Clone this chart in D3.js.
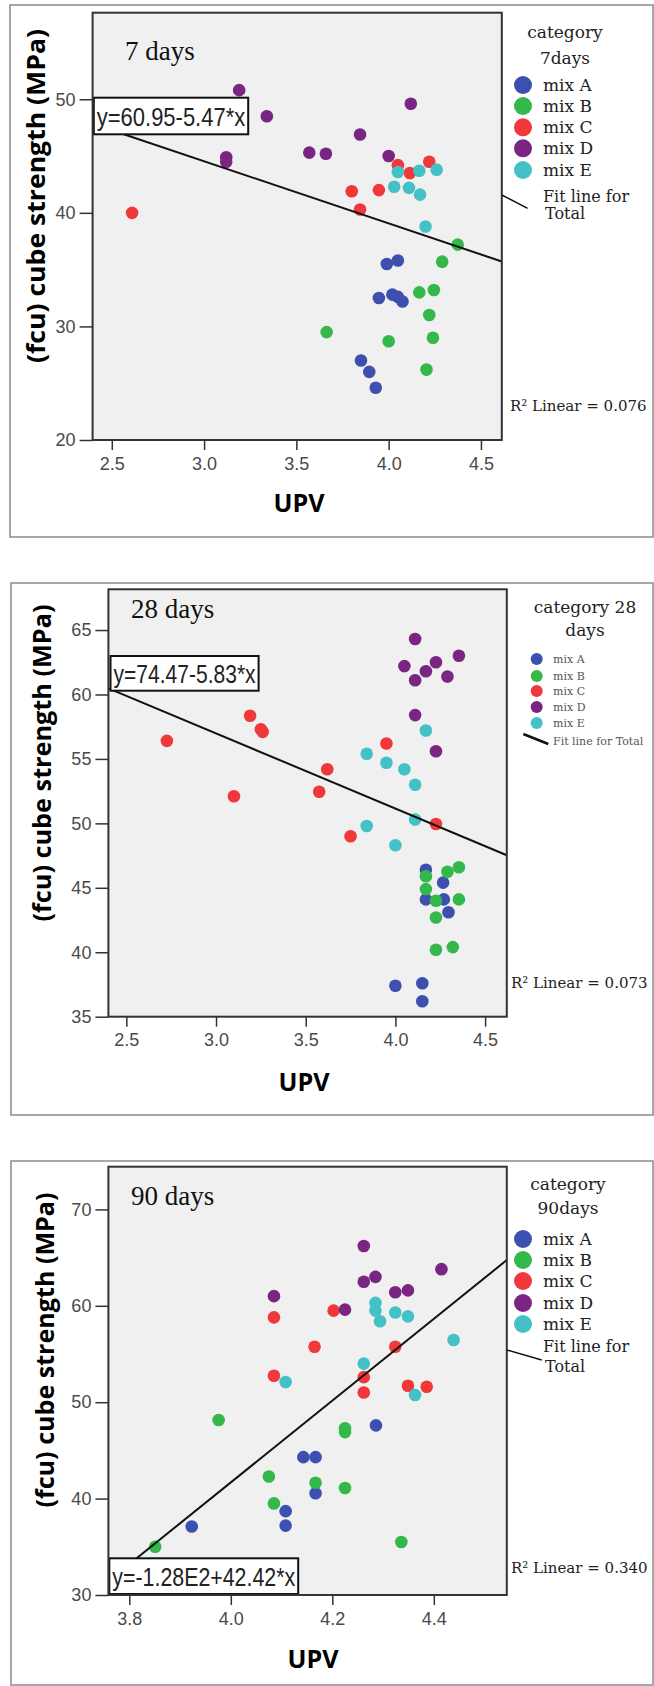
<!DOCTYPE html>
<html>
<head>
<meta charset="utf-8">
<script src="https://cdn.jsdelivr.net/npm/d3@7"></script>
<style>
  body { margin: 0; background: #fff; }
</style>
</head>
<body>
<script>
// categories
var mixes = ["mix A", "mix B", "mix C", "mix D", "mix E"];

// 7 days : [UPV, fcu]
var d7A = [[3.99,35.5],[4.05,35.8],[3.947,32.5],[4.02,32.8],[4.05,32.6],[4.075,32.2],[3.85,27.0],[3.895,26.0],[3.93,24.6]];
var d7B = [[4.374,37.2],[4.29,35.7],[4.166,33.0],[4.245,33.2],[4.22,31.0],[4.24,29.0],[3.664,29.5],[4.0,28.7],[4.205,26.2]];
var d7C = [[2.61,40.0],[3.80,41.9],[3.947,42.0],[3.845,40.3],[4.05,44.2],[4.115,43.5],[4.22,44.5]];
var d7D = [[3.19,50.8],[3.34,48.5],[3.12,44.9],[3.12,44.5],[3.57,45.3],[3.66,45.2],[3.845,46.9],[4.12,49.6],[4.0,45.0]];
var d7E = [[4.05,43.6],[4.166,43.7],[4.26,43.8],[4.03,42.3],[4.11,42.2],[4.17,41.6],[4.20,38.8]];

// 28 days
var d28A = [[4.17,46.4],[4.266,45.4],[4.17,44.1],[4.27,44.1],[4.296,43.1],[4.0,37.4],[4.15,37.6],[4.15,36.2]];
var d28B = [[4.17,45.9],[4.17,44.9],[4.29,46.25],[4.354,46.6],[4.226,44.0],[4.354,44.1],[4.226,42.7],[4.226,40.2],[4.32,40.4]];
var d28C = [[2.726,56.4],[3.19,58.35],[3.26,57.1],[3.25,57.3],[3.10,52.1],[3.62,54.2],[3.575,52.45],[3.95,56.2],[3.75,49.0],[4.226,49.95]];
var d28D = [[4.11,64.3],[4.05,62.2],[4.17,61.8],[4.226,62.5],[4.11,61.1],[4.29,61.4],[4.354,63.0],[4.11,58.4],[4.226,55.6]];
var d28E = [[3.84,55.4],[3.95,54.7],[4.05,54.2],[4.11,53.0],[4.17,57.2],[3.84,49.8],[4.0,48.3],[4.11,50.3]];

// 90 days
var d90A = [[4.286,47.6],[4.143,44.3],[4.167,44.3],[4.167,40.55],[4.108,38.7],[4.108,37.2],[3.923,37.1]];
var d90B = [[3.976,48.15],[4.225,46.9],[4.225,47.3],[4.075,42.3],[4.167,41.65],[4.225,41.1],[4.085,39.5],[3.851,35.0],[4.336,35.5]];
var d90C = [[4.085,58.8],[4.2025,59.5],[4.165,55.75],[4.324,55.75],[4.085,52.75],[4.262,52.6],[4.262,51.0],[4.349,51.7],[4.386,51.6]];
var d90D = [[4.262,66.2],[4.262,62.5],[4.285,63.0],[4.085,61.0],[4.225,59.6],[4.324,61.4],[4.349,61.6],[4.415,63.8]];
var d90E = [[4.285,60.3],[4.285,59.5],[4.294,58.4],[4.324,59.3],[4.349,58.9],[4.439,56.45],[4.262,54.0],[4.108,52.1],[4.363,50.75]];

// fit lines [intercept, slope] and R squared
var fit7 = [60.95, -5.47], fit28 = [74.47, -5.83], fit90 = [-128, 42.42];
var r2 = [0.076, 0.073, 0.340];
var eqText = ["y=60.95-5.47*x", "y=74.47-5.83*x", "y=-1.28E2+42.42*x"];
var ageText = ["7 days", "28 days", "90 days"];
var legTitle = [["category", "7days"], ["category 28", "days"], ["category", "90days"]];

// ticks
var xTicks7 = [2.5, 3.0, 3.5, 4.0, 4.5], yTicks7 = [20, 30, 40, 50];
var xTicks28 = [2.5, 3.0, 3.5, 4.0, 4.5], yTicks28 = [35, 40, 45, 50, 55, 60, 65];
var xTicks90 = [3.8, 4.0, 4.2, 4.4], yTicks90 = [30, 40, 50, 60, 70];

var colorArr = ["#3d50b0", "#35b84a", "#f0383b", "#7a2582", "#43c1c7"];

var svg = d3.select("body").append("svg")
    .attr("width", 654).attr("height", 1686);

var panels = [
  { series: [d7A, d7B, d7C, d7D, d7E], fit: fit7, r2: r2[0], eq: eqText[0], age: ageText[0], title: legTitle[0],
    xTicks: xTicks7, yTicks: yTicks7, xDomain: [2.396, 4.613], yDomain: [20, 57.62],
    frame: {x: 10, y: 5, w: 643, h: 532}, plot: {x: 92.6, y: 12.7, w: 409.2, h: 427.3},
    box: {x: 93.8, y: 97.7, w: 154.4, h: 36.6}, ageAt: [125, 60], labelX: 35, labelY: 196, labelLen: 334,
    upv: [299, 512], r2At: [510, 411], legend: "big", legY: [38, 64], legCx: 565, rows: [85, 106, 127.3, 148.3, 170],
    fitLeg: [[501.8, 195], [527.6, 208.3]], fitTxt: [202, 219] },
  { series: [d28A, d28B, d28C, d28D, d28E], fit: fit28, r2: r2[1], eq: eqText[1], age: ageText[1], title: legTitle[1],
    xTicks: xTicks28, yTicks: yTicks28, xDomain: [2.40, 4.621], yDomain: [35, 68.16],
    frame: {x: 11, y: 583, w: 642, h: 532}, plot: {x: 108.4, y: 589.3, w: 398.4, h: 427.4},
    box: {x: 110.5, y: 656, w: 148.1, h: 34.7}, ageAt: [131, 618], labelX: 40.6, labelY: 763, labelLen: 317,
    upv: [304, 1091], r2At: [511, 988], legend: "small", legY: [613, 636], legCx: 585, rows: [659, 676, 691, 707, 723],
    fitLeg: [[523.3, 734], [548.3, 744]], fitTxt: [745] },
  { series: [d90A, d90B, d90C, d90D, d90E], fit: fit90, r2: r2[2], eq: eqText[2], age: ageText[2], title: legTitle[2],
    xTicks: xTicks90, yTicks: yTicks90, xDomain: [3.7588, 4.5438], yDomain: [30, 74.43],
    frame: {x: 11, y: 1161, w: 642, h: 524}, plot: {x: 108.4, y: 1166.7, w: 398.4, h: 428.3},
    box: {x: 109.3, y: 1558.3, w: 188.9, h: 35.7}, ageAt: [131, 1205], labelX: 43.8, labelY: 1350, labelLen: 315,
    upv: [313, 1668], r2At: [511, 1573], legend: "big", legY: [1190, 1214], legCx: 568, rows: [1239, 1260, 1281, 1303, 1324],
    fitLeg: [[506.8, 1350], [541.7, 1360]], fitTxt: [1352, 1372] }
];

panels.forEach(drawPanel);

function drawPanel(p) {
  var g = svg.append("g");
  var x = d3.scaleLinear().domain(p.xDomain).range([p.plot.x, p.plot.x + p.plot.w]);
  var y = d3.scaleLinear().domain(p.yDomain).range([p.plot.y + p.plot.h, p.plot.y]);

  g.append("rect")
    .attr("x", p.frame.x).attr("y", p.frame.y)
    .attr("width", p.frame.w).attr("height", p.frame.h)
    .attr("fill", "none").attr("stroke", "#8a8a8a").attr("stroke-width", 1.5);

  g.append("rect")
    .attr("x", p.plot.x).attr("y", p.plot.y)
    .attr("width", p.plot.w).attr("height", p.plot.h)
    .attr("fill", "#f0f0f0");

  // axes
  var xAxis = d3.axisBottom(x).tickValues(p.xTicks).tickFormat(d3.format(".1f"))
      .tickSizeInner(10).tickSizeOuter(0).tickPadding(7);
  var gx = g.append("g")
      .attr("transform", "translate(0," + (p.plot.y + p.plot.h) + ")")
      .call(xAxis);
  var yAxis = d3.axisLeft(y).tickValues(p.yTicks).tickFormat(d3.format("d"))
      .tickSizeInner(13).tickSizeOuter(0).tickPadding(4);
  var gy = g.append("g")
      .attr("transform", "translate(" + p.plot.x + ",0)")
      .call(yAxis);
  [gx, gy].forEach(function(a){
    a.select(".domain").remove();
    a.selectAll("line").attr("stroke", "#333").attr("stroke-width", 1.5);
    a.selectAll("text")
      .attr("font-family", "Liberation Sans, Arial, sans-serif")
      .attr("font-size", "18px")
      .attr("fill", "#4a4a4a");
  });

  // points
  p.series.forEach(function(s, i){
    g.append("g").selectAll("circle")
      .data(s)
      .enter()
      .append("circle")
      .attr("cx", function(d){ return x(d[0]); })
      .attr("cy", function(d){ return y(d[1]); })
      .attr("r", 6.3)
      .attr("fill", colorArr[i]);
  });

  // fit line for total
  var line = d3.line()
      .x(function(d){ return x(d); })
      .y(function(d){ return y(p.fit[0] + p.fit[1] * d); });
  g.append("path")
    .datum(p.xDomain)
    .attr("d", line)
    .attr("fill", "none")
    .attr("stroke", "#111")
    .attr("stroke-width", 2);

  // equation box
  g.append("rect")
    .attr("x", p.box.x).attr("y", p.box.y)
    .attr("width", p.box.w).attr("height", p.box.h)
    .attr("fill", "#fff").attr("stroke", "#111").attr("stroke-width", 2);
  g.append("text")
    .attr("x", p.box.x + 3).attr("y", p.box.y + p.box.h - 8)
    .attr("font-family", "Liberation Sans Narrow, Liberation Sans, Arial, sans-serif")
    .attr("font-size", "25px")
    .attr("textLength", p.box.w - 6)
    .attr("lengthAdjust", "spacingAndGlyphs")
    .attr("fill", "#222")
    .text(p.eq);

  // plot border
  g.append("rect")
    .attr("x", p.plot.x).attr("y", p.plot.y)
    .attr("width", p.plot.w).attr("height", p.plot.h)
    .attr("fill", "none").attr("stroke", "#333").attr("stroke-width", 2);

  g.append("text")
    .attr("x", p.ageAt[0]).attr("y", p.ageAt[1])
    .attr("font-family", "Liberation Serif, Times New Roman, serif")
    .attr("font-size", "27px")
    .attr("fill", "#111")
    .text(p.age);

  // axis titles
  g.append("text")
    .attr("x", p.upv[0]).attr("y", p.upv[1])
    .attr("text-anchor", "middle")
    .attr("font-family", "Open Sans, sans-serif")
    .attr("font-weight", "bold")
    .attr("font-size", "25px")
    .attr("textLength", 51)
    .attr("lengthAdjust", "spacingAndGlyphs")
    .attr("fill", "#000")
    .text("UPV");
  g.append("text")
    .attr("transform", "translate(" + p.labelX + "," + p.labelY + ") rotate(-90)")
    .attr("text-anchor", "middle")
    .attr("dominant-baseline", "central")
    .attr("font-family", "Open Sans, sans-serif")
    .attr("font-weight", "bold")
    .attr("font-size", "25px")
    .attr("textLength", p.labelLen)
    .attr("lengthAdjust", "spacingAndGlyphs")
    .attr("fill", "#000")
    .text("(fcu) cube strength (MPa)");

  // R squared
  g.append("text")
    .attr("x", p.r2At[0]).attr("y", p.r2At[1])
    .attr("font-family", "DejaVu Serif, serif")
    .attr("font-size", "15px")
    .attr("fill", "#222")
    .text("R\u00b2 Linear = " + p.r2.toFixed(3));

  // legend
  var big = p.legend == "big";
  var fs = big ? 17 : 11;
  var serif = "DejaVu Serif, serif";
  g.selectAll(null)
    .data(p.title)
    .enter()
    .append("text")
    .attr("x", p.legCx)
    .attr("y", function(d, i){ return p.legY[i]; })
    .attr("text-anchor", "middle")
    .attr("font-family", serif)
    .attr("font-size", "17px")
    .attr("fill", "#222")
    .text(function(d){ return d; });

  var cx = big ? 523 : 536.7, tx = big ? 543 : 553;
  g.selectAll(null)
    .data(mixes)
    .enter()
    .append("circle")
    .attr("cx", cx)
    .attr("cy", function(d, i){ return p.rows[i]; })
    .attr("r", big ? 9 : 6)
    .attr("fill", function(d, i){ return colorArr[i]; });
  g.selectAll(null)
    .data(mixes)
    .enter()
    .append("text")
    .attr("x", tx)
    .attr("y", function(d, i){ return p.rows[i] + (big ? 6 : 4); })
    .attr("font-family", serif)
    .attr("font-size", fs + "px")
    .attr("fill", big ? "#222" : "#555")
    .text(function(d){ return d; });

  g.append("line")
    .attr("x1", p.fitLeg[0][0]).attr("y1", p.fitLeg[0][1])
    .attr("x2", p.fitLeg[1][0]).attr("y2", p.fitLeg[1][1])
    .attr("stroke", "#111").attr("stroke-width", big ? 1.5 : 2.5);
  var fitLines = big ? ["Fit line for", "Total"] : ["Fit line for Total"];
  g.selectAll(null)
    .data(fitLines)
    .enter()
    .append("text")
    .attr("x", function(d, i){ return tx + (i ? 2 : 0); })
    .attr("y", function(d, i){ return p.fitTxt[i]; })
    .attr("font-family", serif)
    .attr("font-size", (big ? 16 : fs) + "px")
    .attr("fill", big ? "#222" : "#555")
    .text(function(d){ return d; });
}
</script>
</body>
</html>
